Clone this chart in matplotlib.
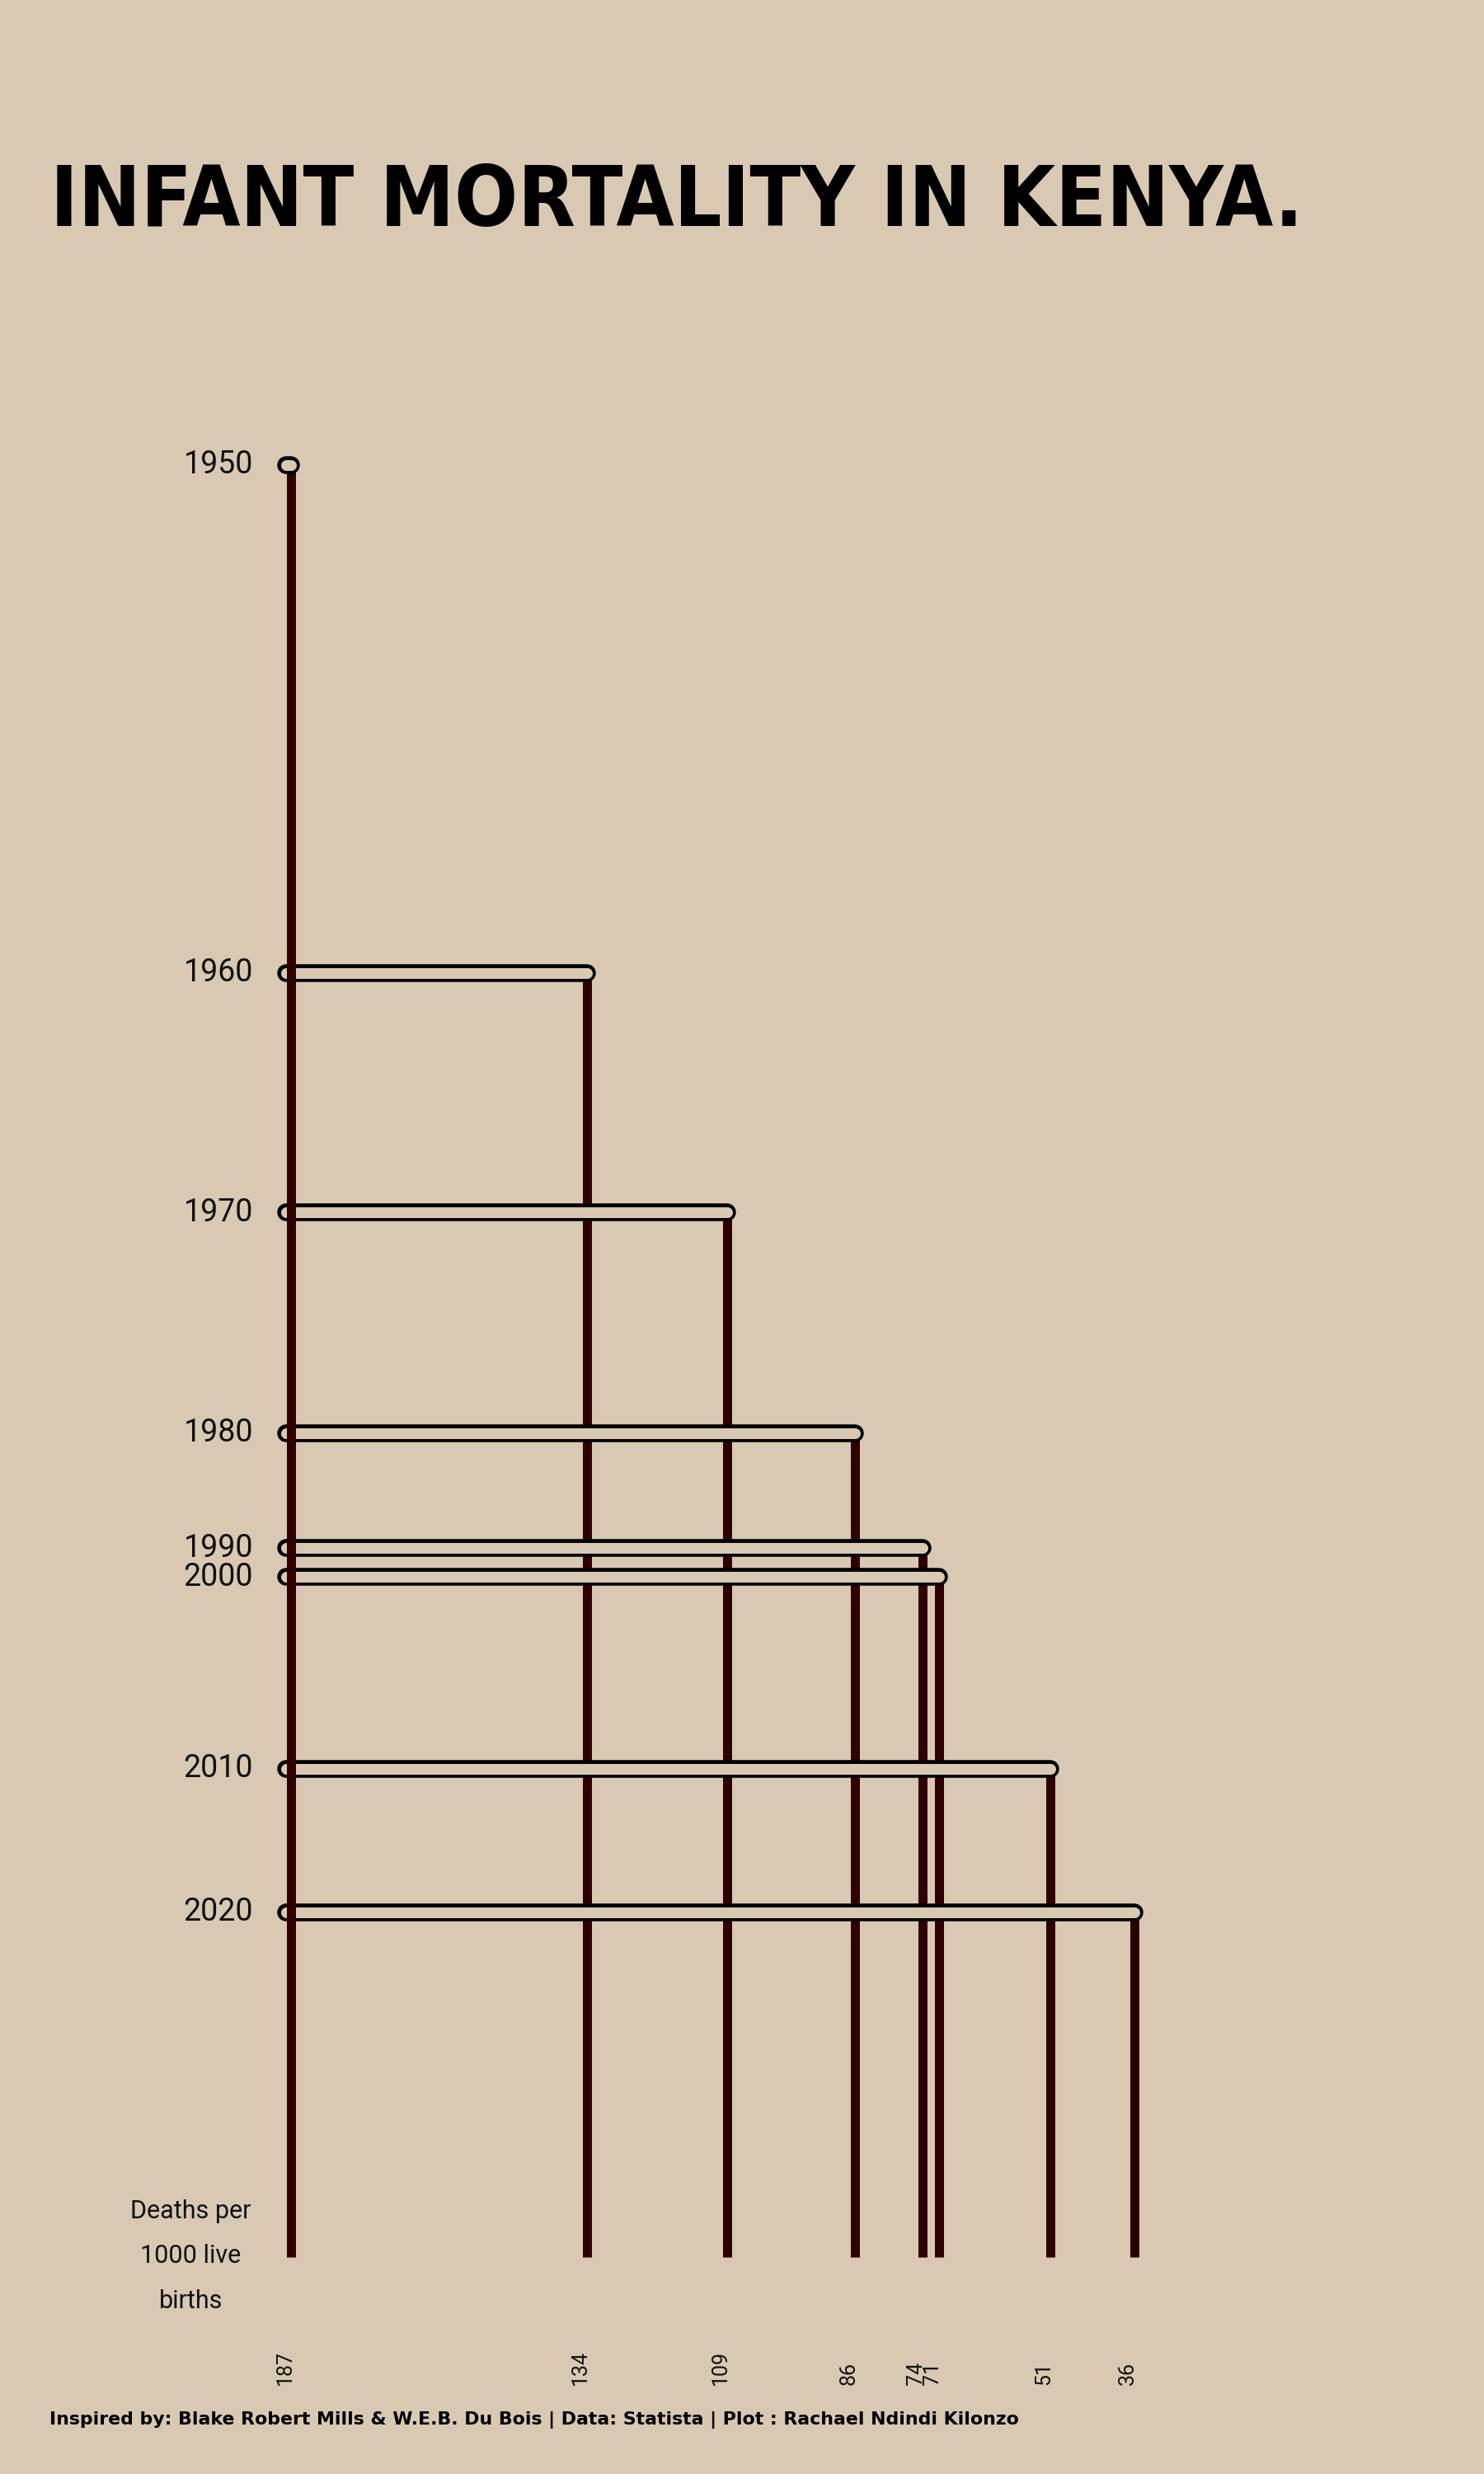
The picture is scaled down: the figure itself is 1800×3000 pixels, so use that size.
# Du Bois style chart: infant mortality in Kenya, deaths per 1000 live births.
# Each decade is a capsule bar at height = rate, running from the 187 line
# to the rate; vertical posts drop from each rate to zero.

import matplotlib.pyplot as plt
import matplotlib.transforms as mtransforms

years = [1950, 1960, 1970, 1980, 1990, 2000, 2010, 2020]
deaths = [187, 134, 109, 86, 74, 71, 51, 36]

TITLE = "INFANT MORTALITY IN KENYA."
UNIT = "Deaths per\n1000 live\nbirths"
FOOTER = ("Inspired by: Blake Robert Mills & W.E.B. Du Bois | Data: Statista | "
          "Plot : Rachael Ndindi Kilonzo")

BG = "#d9c9b3"
POST = "#2e0000"
INK = "#111111"

plt.rcParams["font.family"] = ["Roboto", "DejaVu Sans"]


def main():
    fig = plt.figure(figsize=(18, 30), dpi=100, facecolor=BG)
    ax = fig.add_axes([0, 0, 1, 1])
    ax.set_facecolor(BG)
    ax.set_xlim(239.2, -26.6)   # reversed: high rates on the left
    ax.set_ylim(-22.6, 235.5)
    ax.axis("off")

    top = max(deaths)
    start = top + 0.96           # bars start just left of the first post

    # vertical posts (the first one sits above the bars)
    for d in deaths:
        ax.plot([d, d], [0, d], color=POST, lw=7.9, solid_capstyle="butt",
                zorder=5 if d == top else 1)

    # capsule bars: black outline + background fill
    for d in deaths:
        z = 6 if d == top else 2
        ax.plot([start, d], [d, d], color="black", lw=15.5,
                solid_capstyle="round", zorder=z)
        ax.plot([start, d], [d, d], color=BG, lw=9.4,
                solid_capstyle="round", zorder=z + 0.1)

    # year labels on the left
    ytr = mtransforms.blended_transform_factory(fig.transFigure, ax.transData)
    for yr, d in zip(years, deaths):
        ax.text(265 / 1800, d, str(yr), transform=ytr, ha="center",
                va="center", fontsize=27, color=INK)

    # rate labels under each post
    xtr = mtransforms.blended_transform_factory(ax.transData, fig.transFigure)
    xtr = xtr + mtransforms.ScaledTranslation(-8 / 100, 0, fig.dpi_scale_trans)
    for d in deaths:
        ax.text(d, 1 - 2892 / 3000, str(d), transform=xtr, rotation=90,
                ha="center", va="bottom", fontsize=18, color=INK)

    fig.text(231.5 / 1800, 1 - 2736 / 3000, UNIT, ha="center", va="center",
             fontsize=22, linespacing=2.12, color=INK)

    fig.text(61 / 1800, 1 - 274 / 3000, TITLE, ha="left", va="baseline",
             fontsize=72.5, weight="bold", color="black",
             family="DejaVu Sans", fontstretch="condensed")
    fig.text(60 / 1800, 1 - 2940 / 3000, FOOTER, ha="left", va="baseline",
             fontsize=15.8, weight="bold", color="black", family="DejaVu Sans")

    fig.savefig("out.png", dpi=100, facecolor=BG)
    plt.close(fig)


if __name__ == "__main__":
    main()
